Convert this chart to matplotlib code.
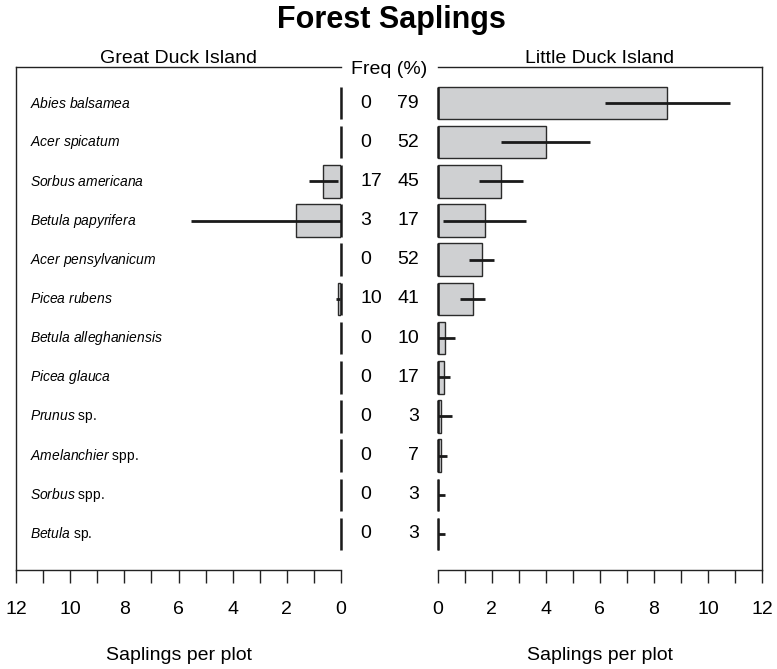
import matplotlib
matplotlib.use("Agg")
import matplotlib.pyplot as plt
import numpy as np

plt.rcParams['font.family'] = ['Liberation Sans', 'DejaVu Sans']
plt.rcParams['mathtext.fontset'] = 'custom'
plt.rcParams['mathtext.it'] = 'Liberation Sans:italic'
plt.rcParams['mathtext.rm'] = 'Liberation Sans'

genus_species = ["Abies balsamea", "Acer spicatum", "Sorbus americana", "Betula papyrifera",
                 "Acer pensylvanicum", "Picea rubens", "Betula alleghaniensis", "Picea glauca",
                 "Prunus", "Amelanchier", "Sorbus", "Betula"]
suffix = ["", "", "", "", "", "", "", "", "sp.", "spp.", "spp.", "sp."]

great = [0, 0, 0.65, 1.67, 0, 0.12, 0, 0, 0, 0, 0, 0]
great_err = [0, 0, 0.53, 3.88, 0, 0.08, 0, 0, 0, 0, 0, 0]
little = [8.5, 4.0, 2.35, 1.75, 1.63, 1.3, 0.28, 0.23, 0.12, 0.12, 0.03, 0.03]
little_err = [2.3, 1.65, 0.83, 1.53, 0.45, 0.45, 0.35, 0.23, 0.42, 0.24, 0.25, 0.25]
freq_great = [0, 0, 17, 3, 0, 10, 0, 0, 0, 0, 0, 0]
freq_little = [79, 52, 45, 17, 52, 41, 10, 17, 3, 7, 3, 3]

W, H = 777, 669
fig = plt.figure(figsize=(W / 100, H / 100), dpi=100)

def frac(x0, x1, ytop, ybot):
    return [x0 / W, 1 - ybot / H, (x1 - x0) / W, (ybot - ytop) / H]

axL = fig.add_axes(frac(16, 341, 67, 570))
axR = fig.add_axes(frac(437.5, 762, 67, 570))

n = len(genus_species)
y = np.arange(1, n + 1)
bar_face = '#cfd0d2'
bar_edge = '#2b2b2b'
bar_h = 0.83

def draw(ax, vals, errs):
    vals = np.array(vals, float)
    errs = np.array(errs, float)
    ax.barh(y, vals, height=bar_h, color=bar_face, edgecolor=bar_edge, linewidth=1.0, zorder=2)
    ax.vlines(np.zeros(n), y - bar_h / 2, y + bar_h / 2, colors='#1a1a1a', linewidth=1.8,
              zorder=3, clip_on=False)
    lower = np.minimum(errs, vals)
    mask = errs > 0
    ax.errorbar(vals[mask], y[mask], xerr=[lower[mask], errs[mask]], fmt='none',
                ecolor='#1a1a1a', elinewidth=2.0, capsize=0, zorder=4)
    ax.set_ylim(12.92, 0.08)
    ax.set_yticks([])
    ax.set_xticks(np.arange(0, 13, 2))
    ax.set_xticks(np.arange(0, 13, 1), minor=True)
    ax.tick_params(axis='x', which='both', direction='out', length=9, width=1.0,
                   labelsize=14, pad=13, color='#222222')
    ax.set_xlabel("Saplings per plot", fontsize=14, labelpad=21)
    for s in ax.spines.values():
        s.set_linewidth(1.0)
        s.set_color('#222222')

draw(axL, great, great_err)
axL.set_xlim(12, 0)
axL.spines['right'].set_visible(False)
axL.set_title("Great Duck Island", fontsize=14, pad=3)

draw(axR, little, little_err)
axR.set_xlim(0, 12)
axR.spines['left'].set_visible(False)
axR.set_title("Little Duck Island", fontsize=14, pad=3)

for i in range(n):
    gs = genus_species[i].replace(" ", r"\ ")
    lab = r"$\mathit{" + gs + "}$" + ((" " + suffix[i]) if suffix[i] else "")
    axL.text(0.043, y[i], lab, transform=axL.get_yaxis_transform(), fontsize=10,
             ha='left', va='center')

for i in range(n):
    xl = 360 / W
    xr = 419 / W
    yy = axL.transData.transform((0, y[i]))[1]
    yf = fig.transFigure.inverted().transform((0, yy))[1]
    fig.text(xl, yf, str(freq_great[i]), fontsize=14, ha='left', va='center')
    fig.text(xr, yf, str(freq_little[i]), fontsize=14, ha='right', va='center')

fig.text(389.5 / W, 1 - 69 / H, "Freq (%)", fontsize=14, ha='center', va='center')
fig.text(391.5 / W, 1 - 20 / H, "Forest Saplings", fontsize=22, fontweight='bold',
         ha='center', va='center')

fig.savefig("out.png", dpi=100)
